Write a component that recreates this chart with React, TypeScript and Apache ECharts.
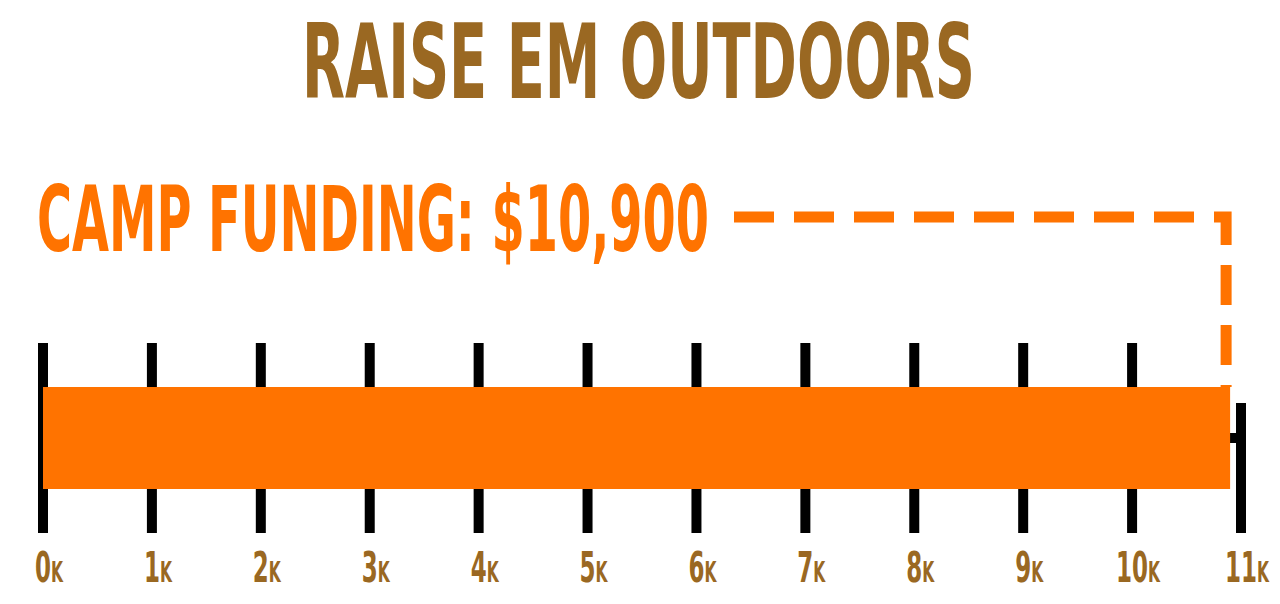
import React, { useEffect, useRef } from 'react';
import * as echarts from 'echarts';

const titleText = 'RAISE EM OUTDOORS';
const fundingLabel = 'CAMP FUNDING';
const categories = ['Camp funding'];
const fundingValues = [10900];
const axisMax = 11000;
const tickStep = 1000;
const tickValues = [0, 1000, 2000, 3000, 4000, 5000, 6000, 7000, 8000, 9000, 10000, 11000];
const tickLabels = ['0', '1', '2', '3', '4', '5', '6', '7', '8', '9', '10', '11'];
const tickUnit = 'K';

const FONT = "'Liberation Sans Narrow', 'DejaVu Sans Condensed', 'Roboto', sans-serif";
const BROWN = '#9a6822';
const ORANGE = '#ff7300';

let measureCtx: CanvasRenderingContext2D | null = null;
const measure = (text: string, size: number) => {
  if (!measureCtx) measureCtx = document.createElement('canvas').getContext('2d');
  measureCtx!.font = `bold ${size}px ${FONT}`;
  return measureCtx!.measureText(text).width;
};

const textStyle = (text: string, size: number, fill: string, align: string) => ({
  text,
  fill,
  fontSize: size,
  fontFamily: FONT,
  fontWeight: 'bold',
  align,
  textAlign: align,
  verticalAlign: 'middle',
  textVerticalAlign: 'middle'
});

// fit a text to a target width, then stretch it vertically to the wanted size
const fitText = (text: string, size: number, width: number) => {
  const fs = (size * width) / measure(text, size);
  return { fs, scaleY: size / fs };
};

const App = () => {
  const chartRef = useRef<HTMLDivElement>(null);

  useEffect(() => {
    document.body.style.margin = '0';
    const chart = echarts.init(chartRef.current, null, { renderer: 'svg' });

    const labelText = `${fundingLabel}: $${fundingValues[0].toLocaleString('en-US')}`;
    const labelLeft = 37;
    const labelWidth = 672;
    const dashStart = labelLeft + labelWidth + 25;
    const dashY = 217;
    const barWidth = 102;

    const title = fitText(titleText, 104, 673);
    const label = fitText(labelText, 90, labelWidth);

    // tick label sizing
    const numSize = 42;
    const unitSize = 28;
    const numFit = fitText('0', numSize, 16);
    const unitFit = fitText(tickUnit, unitSize, 12);

    const option = {
      animation: false,
      grid: { left: 43, right: 39, top: 343, bottom: 71 },
      xAxis: {
        type: 'value',
        min: 0,
        max: axisMax,
        interval: tickStep,
        axisLine: { show: false },
        axisTick: { show: false },
        axisLabel: { show: false },
        splitLine: { show: false }
      },
      yAxis: {
        type: 'category',
        data: categories,
        show: false
      },
      graphic: [
        {
          type: 'text',
          x: 638.5,
          y: 62,
          scaleY: title.scaleY,
          silent: true,
          style: textStyle(titleText, title.fs, BROWN, 'center')
        },
        {
          type: 'text',
          x: labelLeft,
          y: 219.5,
          scaleY: label.scaleY,
          silent: true,
          style: textStyle(labelText, label.fs, ORANGE, 'left')
        }
      ],
      series: [
        {
          // ticks + labels
          type: 'custom',
          z: 1,
          silent: true,
          data: tickValues.map((v) => [v, 0]),
          renderItem: (params: any, api: any) => {
            const v = api.value(0);
            const [x, cy] = api.coord([v, 0]);
            const band = api.size([0, 1])[1];
            const top = v >= axisMax ? cy - 35 : cy - band / 2;
            const bottom = cy + band / 2;
            const lbl = tickLabels[params.dataIndex];
            const numW = measure(lbl, numFit.fs);
            const baseline = bottom + 49;
            return {
              type: 'group',
              children: [
                {
                  type: 'rect',
                  shape: { x: x - 5, y: top, width: 10, height: bottom - top },
                  style: { fill: '#000' }
                },
                {
                  type: 'text',
                  x: x,
                  y: baseline - 0.35 * numSize,
                  scaleY: numFit.scaleY,
                  style: textStyle(lbl, numFit.fs, BROWN, 'center')
                },
                {
                  type: 'text',
                  x: x + numW / 2,
                  y: baseline - 0.35 * unitSize,
                  scaleY: unitFit.scaleY,
                  style: textStyle(tickUnit, unitFit.fs, BROWN, 'left')
                }
              ]
            };
          }
        },
        {
          // axis track
          type: 'custom',
          z: 1,
          silent: true,
          encode: { x: [0, 1], y: 2 },
          data: [[0, axisMax, 0]],
          renderItem: (params: any, api: any) => {
            const s = api.coord([api.value(0), 0]);
            const e = api.coord([api.value(1), 0]);
            return {
              type: 'rect',
              shape: { x: s[0], y: s[1] - 5, width: e[0] - s[0], height: 10 },
              style: { fill: '#000' }
            };
          }
        },
        {
          type: 'bar',
          z: 3,
          silent: true,
          data: fundingValues,
          barWidth: barWidth,
          itemStyle: { color: ORANGE }
        },
        {
          // dashed leader from the label to the bar end
          type: 'custom',
          z: 4,
          silent: true,
          data: fundingValues.map((v) => [v, 0]),
          renderItem: (params: any, api: any) => {
            const [x, cy] = api.coord([api.value(0), 0]);
            const lx = x - 4;
            return {
              type: 'polyline',
              shape: { points: [[dashStart, dashY], [lx, dashY], [lx, cy - barWidth / 2]] },
              style: { stroke: ORANGE, fill: null, lineWidth: 11, lineDash: [40, 20] }
            };
          }
        }
      ]
    };

    chart.setOption(option as any);

    return () => {
      chart.dispose();
    };
  }, []);

  return <div ref={chartRef} style={{ width: '1280px', height: '604px' }} />;
};

export default App;
